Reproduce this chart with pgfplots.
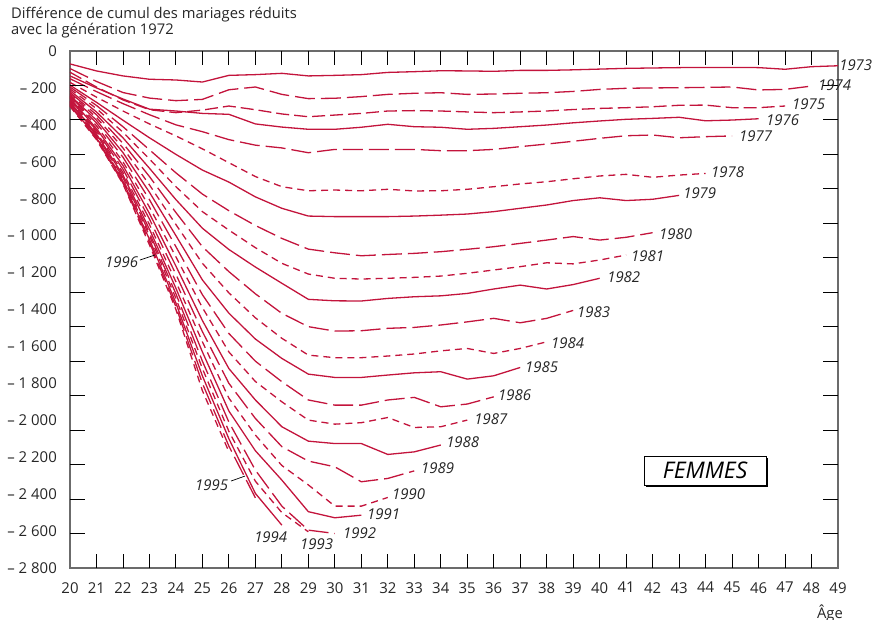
\documentclass[border=0pt]{standalone}
\usepackage{fontspec}
\setmainfont{Open Sans}
\usepackage{pgfplots}
\pgfplotsset{compat=1.18}
\usetikzlibrary{shadows}
\definecolor{cr}{RGB}{195,20,60}
\pgfplotsset{
 sol/.style={cr, line width=1.3bp, line join=round},
 lng/.style={cr, line width=1.3bp, dash pattern=on 20bp off 6bp},
 med/.style={cr, line width=1.3bp, dash pattern=on 13bp off 5bp},
 sht/.style={cr, line width=1.3bp, dash pattern=on 7bp off 5bp},
}
\newcommand{\lab}[3]{\node[anchor=west, inner sep=0pt, font=\itshape\fontsize{15}{18}\selectfont, text=black!85] at (axis cs:#1,#2) {#3};}
\begin{document}
\begin{tikzpicture}
\path[use as bounding box] (-70bp,-52bp) rectangle (808bp,568bp);
\begin{axis}[
 /pgf/number format/assume math mode=true,
 at={(0,0)}, anchor=south west,
 scale only axis, width=768bp, height=517bp,
 xmin=20, xmax=49, ymin=-2800, ymax=0,
 clip=false,
 axis line style={draw=black!58, line width=1.5bp},
 xtick={20,...,49},
 ytick={0,-200,-400,-600,-800,-1000,-1200,-1400,-1600,-1800,-2000,-2200,-2400,-2600,-2800},
 yticklabels={0,– 200,– 400,– 600,– 800,– 1 000,– 1 200,– 1 400,– 1 600,– 1 800,– 2 000,– 2 200,– 2 400,– 2 600,– 2 800},
 major tick length=0bp,
 tick style={draw=none},
 x tick label style={font=\fontsize{15}{18}\selectfont, text=black!85, inner ysep=14bp},
 y tick label style={font=\fontsize{15}{18}\selectfont, text=black!85, inner xsep=13bp},
]
\addplot[sol] coordinates {(20,-70)(21,-108)(22,-135)(23,-153)(24,-157)(25,-168)(26,-132)(27,-128)(28,-121)(29,-135)(30,-132)(31,-128)(32,-116)(33,-112)(34,-107)(35,-108)(36,-110)(37,-105)(38,-105)(39,-102)(40,-98)(41,-94)(42,-92)(43,-90)(44,-89)(45,-89)(46,-90)(47,-99)(48,-85)(49,-80)};
\addplot[lng] coordinates {(20,-95)(21,-165)(22,-225)(23,-255)(24,-269)(25,-262)(26,-210)(27,-195)(28,-235)(29,-258)(30,-256)(31,-247)(32,-235)(33,-229)(34,-226)(35,-235)(36,-233)(37,-229)(38,-226)(39,-219)(40,-208)(41,-202)(42,-200)(43,-199)(44,-197)(45,-195)(46,-211)(47,-208)(48,-190)};
\addplot[med] coordinates {(20,-115)(21,-195)(22,-265)(23,-318)(24,-334)(25,-320)(26,-298)(27,-318)(28,-341)(29,-356)(30,-347)(31,-338)(32,-325)(33,-323)(34,-325)(35,-330)(36,-334)(37,-330)(38,-325)(39,-317)(40,-311)(41,-307)(42,-302)(43,-294)(44,-293)(45,-307)(46,-307)(47,-298)};
\addplot[sol] coordinates {(20,-135)(21,-200)(22,-260)(23,-315)(24,-325)(25,-338)(26,-343)(27,-395)(28,-412)(29,-424)(30,-424)(31,-413)(32,-397)(33,-410)(34,-413)(35,-424)(36,-419)(37,-410)(38,-401)(39,-389)(40,-379)(41,-370)(42,-365)(43,-359)(44,-378)(45,-374)(46,-367)};
\addplot[lng] coordinates {(20,-150)(21,-220)(22,-285)(23,-345)(24,-400)(25,-437)(26,-480)(27,-510)(28,-525)(29,-551)(30,-533)(31,-533)(32,-533)(33,-533)(34,-540)(35,-540)(36,-533)(37,-518)(38,-504)(39,-489)(40,-473)(41,-459)(42,-455)(43,-470)(44,-464)(45,-460)};
\addplot[sht] coordinates {(20,-170)(21,-250)(22,-325)(23,-395)(24,-460)(25,-530)(26,-605)(27,-680)(28,-735)(29,-757)(30,-753)(31,-757)(32,-749)(33,-758)(34,-757)(35,-749)(36,-735)(37,-720)(38,-708)(39,-692)(40,-677)(41,-668)(42,-684)(43,-672)(44,-663)};
\addplot[sol] coordinates {(20,-185)(21,-278)(22,-375)(23,-470)(24,-560)(25,-645)(26,-710)(27,-790)(28,-852)(29,-894)(30,-897)(31,-897)(32,-897)(33,-894)(34,-889)(35,-883)(36,-870)(37,-852)(38,-834)(39,-810)(40,-795)(41,-810)(42,-803)(43,-782)};
\addplot[lng] coordinates {(20,-195)(21,-295)(22,-410)(23,-535)(24,-660)(25,-775)(26,-865)(27,-945)(28,-1015)(29,-1073)(30,-1093)(31,-1109)(32,-1102)(33,-1096)(34,-1087)(35,-1074)(36,-1060)(37,-1042)(38,-1024)(39,-1005)(40,-1024)(41,-1009)(42,-984)};
\addplot[sht] coordinates {(20,-205)(21,-312)(22,-440)(23,-585)(24,-735)(25,-870)(26,-970)(27,-1065)(28,-1150)(29,-1208)(30,-1231)(31,-1235)(32,-1231)(33,-1226)(34,-1219)(35,-1204)(36,-1186)(37,-1168)(38,-1147)(39,-1153)(40,-1132)(41,-1105)};
\addplot[sol] coordinates {(20,-215)(21,-330)(22,-470)(23,-635)(24,-805)(25,-960)(26,-1075)(27,-1170)(28,-1258)(29,-1345)(30,-1353)(31,-1354)(32,-1340)(33,-1331)(34,-1326)(35,-1313)(36,-1289)(37,-1268)(38,-1289)(39,-1265)(40,-1231)};
\addplot[lng] coordinates {(20,-225)(21,-345)(22,-500)(23,-680)(24,-875)(25,-1060)(26,-1195)(27,-1315)(28,-1421)(29,-1493)(30,-1517)(31,-1515)(32,-1502)(33,-1497)(34,-1484)(35,-1467)(36,-1448)(37,-1472)(38,-1448)(39,-1405)};
\addplot[sht] coordinates {(20,-232)(21,-360)(22,-525)(23,-725)(24,-940)(25,-1150)(26,-1310)(27,-1445)(28,-1556)(29,-1647)(30,-1661)(31,-1661)(32,-1652)(33,-1641)(34,-1624)(35,-1611)(36,-1638)(37,-1611)(38,-1575)};
\addplot[sol] coordinates {(20,-240)(21,-375)(22,-550)(23,-765)(24,-1000)(25,-1240)(26,-1420)(27,-1560)(28,-1665)(29,-1750)(30,-1768)(31,-1768)(32,-1755)(33,-1743)(34,-1737)(35,-1777)(36,-1759)(37,-1714)};
\addplot[lng] coordinates {(20,-245)(21,-390)(22,-575)(23,-805)(24,-1060)(25,-1320)(26,-1530)(27,-1680)(28,-1791)(29,-1890)(30,-1918)(31,-1918)(32,-1890)(33,-1876)(34,-1927)(35,-1912)(36,-1873)};
\addplot[sht] coordinates {(20,-250)(21,-405)(22,-600)(23,-845)(24,-1115)(25,-1390)(26,-1630)(27,-1790)(28,-1900)(29,-1999)(30,-2021)(31,-2013)(32,-1985)(33,-2039)(34,-2035)(35,-1999)};
\addplot[sol] coordinates {(20,-255)(21,-420)(22,-620)(23,-880)(24,-1165)(25,-1460)(26,-1720)(27,-1890)(28,-2035)(29,-2113)(30,-2126)(31,-2126)(32,-2185)(33,-2171)(34,-2134)};
\addplot[lng] coordinates {(20,-262)(21,-430)(22,-640)(23,-910)(24,-1210)(25,-1520)(26,-1800)(27,-1990)(28,-2143)(29,-2221)(30,-2252)(31,-2333)(32,-2315)(33,-2274)};
\addplot[sht] coordinates {(20,-270)(21,-440)(22,-658)(23,-940)(24,-1250)(25,-1575)(26,-1880)(27,-2080)(28,-2245)(29,-2350)(30,-2465)(31,-2465)(32,-2418)};
\addplot[sol] coordinates {(20,-275)(21,-450)(22,-672)(23,-965)(24,-1285)(25,-1630)(26,-1950)(27,-2165)(28,-2324)(29,-2495)(30,-2528)(31,-2514)};
\addplot[lng] coordinates {(20,-280)(21,-458)(22,-685)(23,-985)(24,-1315)(25,-1680)(26,-2010)(27,-2270)(28,-2465)(29,-2595)(30,-2613)};
\addplot[sht] coordinates {(20,-285)(21,-465)(22,-695)(23,-1000)(24,-1340)(25,-1720)(26,-2060)(27,-2330)(28,-2500)(29,-2604)};
\addplot[sol] coordinates {(20,-290)(21,-470)(22,-705)(23,-1020)(24,-1365)(25,-1760)(26,-2100)(27,-2396)(28,-2568)};
\addplot[lng] coordinates {(20,-295)(21,-475)(22,-715)(23,-1035)(24,-1385)(25,-1800)(26,-2140)(27,-2420)};
\addplot[sht] coordinates {(20,-300)(21,-480)(22,-720)(23,-1050)(24,-1400)(25,-1840)(26,-2170)};
\pgfplotsinvokeforeach{21,...,48}{
  \draw[black, line width=0.9bp] (axis cs:#1,-2800) -- (axis cs:#1,-2724);
  \draw[black, line width=0.9bp] (axis cs:#1,0) -- (axis cs:#1,-76);
}
\pgfplotsinvokeforeach{-186.667,-373.333,-560,-746.667,-933.333,-1120,-1306.667,-1493.333,-1680,-1866.667,-2053.333,-2240,-2426.667,-2613.333}{
  \draw[black, line width=0.9bp] (axis cs:20,#1) -- (axis cs:20.566,#1);
  \draw[black, line width=0.9bp] (axis cs:49,#1) -- (axis cs:48.434,#1);
}
\lab{49.04}{-76}{1973}
\lab{48.24}{-184}{1974}
\lab{47.26}{-287}{1975}
\lab{46.28}{-374}{1976}
\lab{45.26}{-460}{1977}
\lab{44.20}{-654}{1978}
\lab{43.15}{-769}{1979}
\lab{42.24}{-991}{1980}
\lab{41.18}{-1109}{1981}
\lab{40.28}{-1223}{1982}
\lab{39.14}{-1412}{1983}
\lab{38.16}{-1582}{1984}
\lab{37.18}{-1710}{1985}
\lab{36.16}{-1863}{1986}
\lab{35.26}{-1993}{1987}
\lab{34.20}{-2116}{1988}
\lab{33.25}{-2258}{1989}
\lab{32.16}{-2399}{1990}
\lab{31.21}{-2508}{1991}
\lab{30.31}{-2609}{1992}
\lab{28.68}{-2670}{1993}
\lab{26.95}{-2632}{1994}
\lab{24.72}{-2351}{1995}
\lab{21.32}{-1143}{1996}
\draw[black, line width=0.7bp] (axis cs:26.08,-2329) -- (axis cs:26.61,-2302);
\draw[black, line width=0.7bp] (axis cs:22.64,-1132) -- (axis cs:23.21,-1105);
\node[draw=black, line width=0.8bp, fill=white, minimum width=122bp, minimum height=29bp, inner sep=0pt,
      drop shadow={shadow xshift=2.2bp, shadow yshift=-2.2bp, fill=black, opacity=1},
      font=\itshape\fontsize{23}{26}\selectfont] at (axis cs:43.98,-2272) {FEMMES};
\end{axis}
\node[anchor=west, inner sep=0pt, font=\fontsize{14.8}{17}\selectfont, text=black!85] at (-59bp,553bp) {Différence de cumul des mariages réduits};
\node[anchor=west, inner sep=0pt, font=\fontsize{14.8}{17}\selectfont, text=black!85] at (-59bp,537bp) {avec la génération 1972};
\node[anchor=east, inner sep=0pt, font=\fontsize{14.8}{17}\selectfont, text=black!85] at (773bp,-45bp) {Âge};
\end{tikzpicture}
\end{document}
